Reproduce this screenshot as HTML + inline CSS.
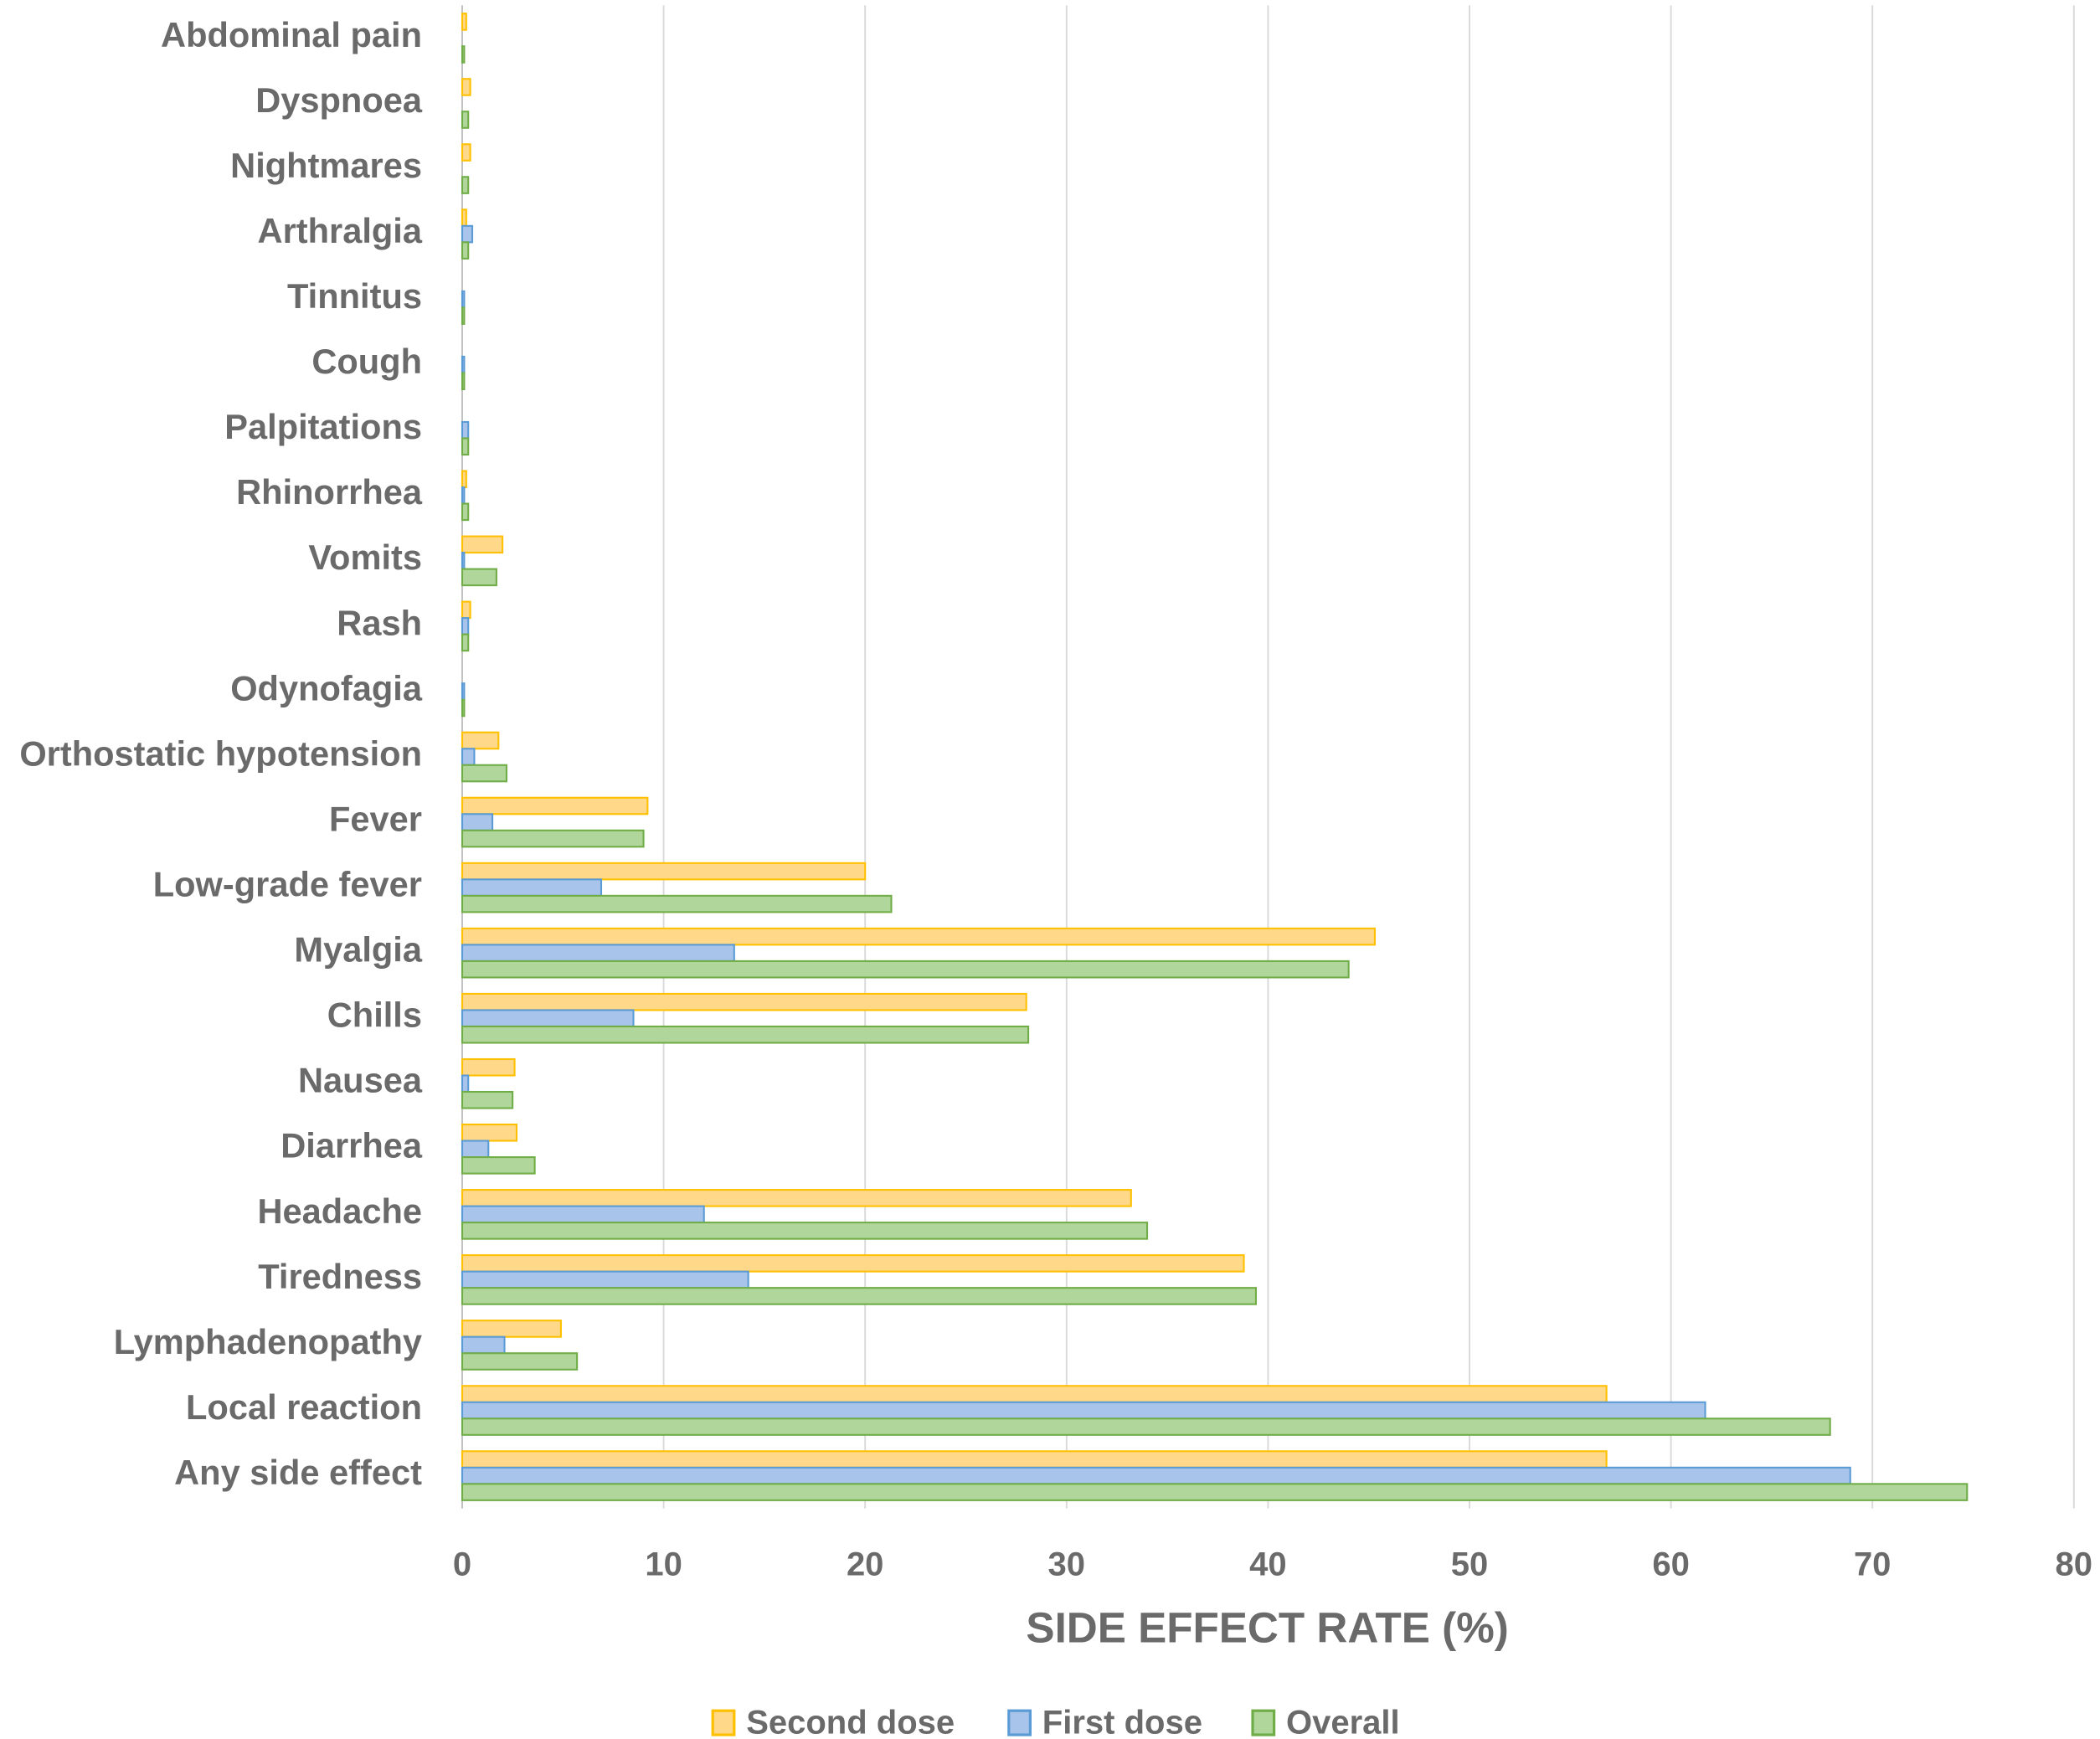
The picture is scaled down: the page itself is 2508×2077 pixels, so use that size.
<!DOCTYPE html>
<html><head><meta charset="utf-8"><style>
html,body{margin:0;padding:0;background:#fff}
svg{display:block}
text{font-family:"Liberation Sans",sans-serif;fill:#6a6a6a;font-weight:bold}
</style></head><body>
<svg id="chart" width="2508" height="2077" viewBox="0 0 1567.5 1298.125" xmlns="http://www.w3.org/2000/svg">
<g id="grid"></g>
<g id="bars"></g>
<g id="ylabels"></g>
<g id="xticks"></g>
<text x="946" y="1226" text-anchor="middle" font-size="32" style="fill:#6a6a6a">SIDE EFFECT RATE (%)</text>
<g>
 <g><rect x="532" y="1277" width="16" height="18" fill="#ffd88a" stroke="#ffc000" stroke-width="2"/><text x="557" y="1294" font-size="25">Second dose</text></g>
 <g><rect x="753" y="1277" width="16" height="18" fill="#a9c4eb" stroke="#5b9bd5" stroke-width="2"/><text x="778" y="1294" font-size="25">First dose</text></g>
 <g><rect x="935" y="1277" width="16" height="18" fill="#b0d69b" stroke="#70ad47" stroke-width="2"/><text x="960" y="1294" font-size="25">Overall</text></g>
</g>
</svg>
<script>
const categories=["Abdominal pain","Dyspnoea","Nightmares","Arthralgia","Tinnitus","Cough","Palpitations","Rhinorrhea","Vomits","Rash","Odynofagia","Orthostatic hypotension","Fever","Low-grade fever","Myalgia","Chills","Nausea","Diarrhea","Headache","Tiredness","Lymphadenopathy","Local reaction","Any side effect"];
const secondDose=[0.2,0.4,0.4,0.2,0,0,0,0.2,2.0,0.4,0,1.8,9.2,20.0,45.3,28.0,2.6,2.7,33.2,38.8,4.9,56.8,56.8];
const firstDose=[0,0,0,0.5,0.1,0.1,0.3,0.1,0.1,0.3,0.1,0.6,1.5,6.9,13.5,8.5,0.3,1.3,12.0,14.2,2.1,61.7,68.9];
const overall=[0.1,0.3,0.3,0.3,0.1,0.1,0.3,0.3,1.7,0.3,0.1,2.2,9.0,21.3,44.0,28.1,2.5,3.6,34.0,39.4,5.7,67.9,74.7];
const xTicks=[0,10,20,30,40,50,60,70,80];
const NS="http://www.w3.org/2000/svg";
const X0=345,X1=1548,XMAX=80,TOP=4,BOT=1126;
const band=(BOT-TOP)/categories.length;
const xs=v=>X0+(X1-X0)*v/XMAX;
const yc=i=>TOP+band*(i+0.5);
function mk(tag,attrs,parent){const e=document.createElementNS(NS,tag);for(const k in attrs)e.setAttribute(k,attrs[k]);parent.appendChild(e);return e;}
const grid=document.getElementById('grid'),bars=document.getElementById('bars'),yl=document.getElementById('ylabels'),xt=document.getElementById('xticks');
xTicks.forEach(t=>{
 const l=mk('line',{x1:xs(t),x2:xs(t),y1:TOP,y2:BOT,stroke:t===0?'#bfbfbf':'#d9d9d9','stroke-width':1.2},grid);
 
 
 const tx=mk('text',{x:xs(t),y:1176,'text-anchor':'middle','font-size':25},xt);
 tx.textContent=t;
 
 
});
const series=[[secondDose,'#ffd88a','#ffc000','second'],[firstDose,'#a9c4eb','#5b9bd5','first'],[overall,'#b0d69b','#70ad47','overall']];
const bh=12.2;
categories.forEach((c,i)=>{
 const cy=yc(i);
 series.forEach((s,j)=>{
  const v=s[0][i];
  if(v<=0)return;
  const r=mk('rect',{x:X0,y:cy-1.5*bh+j*bh,width:Math.max(xs(v)-X0,1),height:bh,fill:s[1],stroke:s[2],'stroke-width':1.3},bars);
  
  
 });
 const t=mk('text',{x:315,y:cy+6.5,'text-anchor':'end','font-size':26},yl);
 t.textContent=c;
 
 
});
</script>
</body></html>
